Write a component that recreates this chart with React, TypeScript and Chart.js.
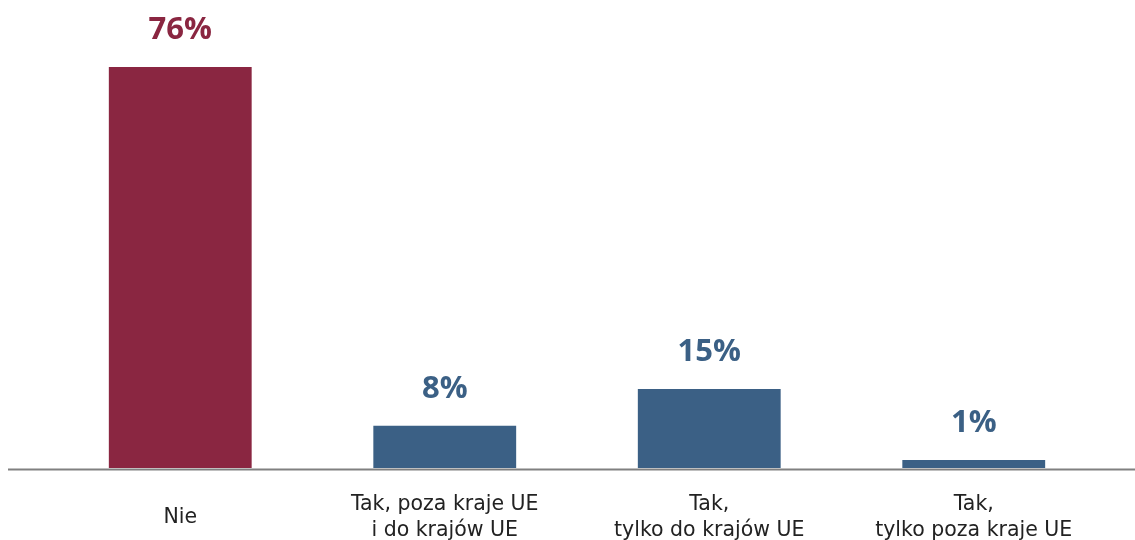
import React, { useEffect, useRef } from "react";
import { Chart, registerables } from "chart.js";

Chart.register(...registerables);

const categories: (string | string[])[] = [
  "Nie",
  ["Tak, poza kraje UE", "i do krajów UE"],
  ["Tak,", "tylko do krajów UE"],
  ["Tak,", "tylko poza kraje UE"],
];
const values = [76, 8, 15, 1.5];
const barColors = ["#8A2641", "#3B6085", "#3B6085", "#3B6085"];
const valueLabels = ["76%", "8%", "15%", "1%"];

const LABEL_FONT = "'Open Sans', 'DejaVu Sans', sans-serif";
const TICK_FONT = "'DejaVu Sans', sans-serif";

export default function App() {
  const ref = useRef<HTMLCanvasElement | null>(null);
  useEffect(() => {
    if (!ref.current) return;
    const labelPlugin = {
      id: "valueLabels",
      afterDraw(chart: any) {
        const ctx = chart.ctx;
        const meta = chart.getDatasetMeta(0);
        ctx.save();
        ctx.strokeStyle = "#808080";
        ctx.lineWidth = 2;
        ctx.beginPath();
        ctx.moveTo(0, chart.chartArea.bottom + 1.5);
        ctx.lineTo(chart.width, chart.chartArea.bottom + 1.5);
        ctx.stroke();
        ctx.font = `bold 31px ${LABEL_FONT}`;
        ctx.textAlign = "center";
        ctx.textBaseline = "alphabetic";
        meta.data.forEach((bar: any, i: number) => {
          ctx.fillStyle = barColors[i];
          ctx.fillText(valueLabels[i], bar.x, bar.y - 28);
        });
        ctx.restore();
      },
    };
    const chart = new Chart(ref.current, {
      type: "bar",
      data: {
        labels: categories as any,
        datasets: [
          {
            data: values,
            backgroundColor: barColors,
            barPercentage: 0.54,
            categoryPercentage: 1,
          },
        ],
      },
      options: {
        responsive: false,
        animation: false,
        layout: { padding: { top: 38, left: 40, right: 29, bottom: 0 } },
        plugins: { legend: { display: false }, tooltip: { enabled: false } },
        scales: {
          x: {
            grid: { display: false, drawTicks: false },
            border: { display: false },
            ticks: {
              color: "#222222",
              font: { family: TICK_FONT, size: 20.5, lineHeight: 1.26 },
              padding: 37,
              crossAlign: "center",
              maxRotation: 0,
              autoSkip: false,
            },
            afterFit: (scale: any) => {
              scale.height = 100;
            },
          },
          y: { display: false, min: 0, max: 80 },
        },
      },
      plugins: [labelPlugin],
    });
    return () => chart.destroy();
  }, []);
  return (
    <div style={{ position: "fixed", left: 8, top: 8, width: 1127, height: 532, overflow: "hidden" }}>
      <canvas ref={ref} width={1127} height={560} style={{ display: "block" }} />
    </div>
  );
}
